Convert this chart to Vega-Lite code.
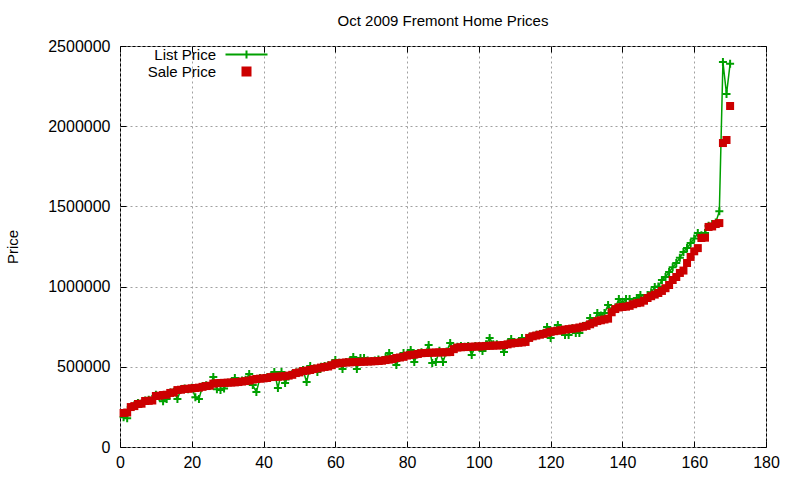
{
"$schema":"https://vega.github.io/schema/vega-lite/v6.json",
"width":646,"height":401,
"autosize":{"type":"none"},
"padding":{"left":120,"top":46,"right":34,"bottom":33},
"background":"white",
"title":{"text":"Oct 2009 Fremont Home Prices","fontSize":15,"fontWeight":"normal","font":"Liberation Sans","color":"black","offset":9,"anchor":"middle"},
"config":{"view":{"stroke":"black","strokeWidth":1},"font":"Liberation Sans","axis":{"labelFont":"Liberation Sans","labelFontSize":16,"labelColor":"black","titleFont":"Liberation Sans","titleColor":"black"}},
"data":{"values":[
{"i":1,"list":185000,"sale":212000},{"i":2,"list":180000,"sale":215000},{"i":3,"list":249000,"sale":249000},{"i":4,"list":260000,"sale":255000},{"i":5,"list":275000,"sale":268000},{"i":6,"list":270000,"sale":270000},{"i":7,"list":290000,"sale":287000},{"i":8,"list":295000,"sale":288000},{"i":9,"list":300000,"sale":290000},{"i":10,"list":325000,"sale":318000},
{"i":11,"list":310000,"sale":320000},{"i":12,"list":285000,"sale":324000},{"i":13,"list":300000,"sale":326000},{"i":14,"list":340000,"sale":337000},{"i":15,"list":345000,"sale":340000},{"i":16,"list":300000,"sale":355000},{"i":17,"list":360000,"sale":357000},{"i":18,"list":365000,"sale":362000},{"i":19,"list":360000,"sale":363000},{"i":20,"list":370000,"sale":366000},
{"i":21,"list":310000,"sale":368000},{"i":22,"list":300000,"sale":370000},{"i":23,"list":380000,"sale":375000},{"i":24,"list":385000,"sale":380000},{"i":25,"list":380000,"sale":382000},{"i":26,"list":436000,"sale":395000},{"i":27,"list":360000,"sale":398000},{"i":28,"list":355000,"sale":399000},{"i":29,"list":365000,"sale":400000},{"i":30,"list":400000,"sale":401000},
{"i":31,"list":405000,"sale":402000},{"i":32,"list":430000,"sale":403000},{"i":33,"list":410000,"sale":405000},{"i":34,"list":415000,"sale":408000},{"i":35,"list":420000,"sale":411000},{"i":36,"list":455000,"sale":414000},{"i":37,"list":386000,"sale":420000},{"i":38,"list":343000,"sale":424000},{"i":39,"list":430000,"sale":426000},{"i":40,"list":430000,"sale":428000},
{"i":41,"list":435000,"sale":430000},{"i":42,"list":440000,"sale":436000},{"i":43,"list":467000,"sale":437000},{"i":44,"list":368000,"sale":438000},{"i":45,"list":467000,"sale":440000},{"i":46,"list":399000,"sale":442000},{"i":47,"list":440000,"sale":445000},{"i":48,"list":455000,"sale":450000},{"i":49,"list":465000,"sale":461000},{"i":50,"list":470000,"sale":465000},
{"i":51,"list":480000,"sale":474000},{"i":52,"list":405000,"sale":476000},{"i":53,"list":505000,"sale":480000},{"i":54,"list":490000,"sale":486000},{"i":55,"list":467000,"sale":490000},{"i":56,"list":500000,"sale":495000},{"i":57,"list":505000,"sale":499000},{"i":58,"list":510000,"sale":502000},{"i":59,"list":515000,"sale":510000},{"i":60,"list":542000,"sale":520000},
{"i":61,"list":525000,"sale":522000},{"i":62,"list":486000,"sale":525000},{"i":63,"list":530000,"sale":527000},{"i":64,"list":535000,"sale":528000},{"i":65,"list":561000,"sale":529000},{"i":66,"list":486000,"sale":530000},{"i":67,"list":555000,"sale":531000},{"i":68,"list":555000,"sale":532000},{"i":69,"list":540000,"sale":533000},{"i":70,"list":535000,"sale":534000},
{"i":71,"list":540000,"sale":535000},{"i":72,"list":545000,"sale":536000},{"i":73,"list":540000,"sale":538000},{"i":74,"list":560000,"sale":542000},{"i":75,"list":586000,"sale":545000},{"i":76,"list":550000,"sale":548000},{"i":77,"list":511000,"sale":555000},{"i":78,"list":560000,"sale":558000},{"i":79,"list":586000,"sale":562000},{"i":80,"list":575000,"sale":570000},
{"i":81,"list":605000,"sale":574000},{"i":82,"list":530000,"sale":576000},{"i":83,"list":585000,"sale":580000},{"i":84,"list":590000,"sale":585000},{"i":85,"list":586000,"sale":586000},{"i":86,"list":636000,"sale":587000},{"i":87,"list":524000,"sale":588000},{"i":88,"list":530000,"sale":589000},{"i":89,"list":600000,"sale":590000},{"i":90,"list":530000,"sale":590000},
{"i":91,"list":595000,"sale":591000},{"i":92,"list":648000,"sale":592000},{"i":93,"list":615000,"sale":610000},{"i":94,"list":625000,"sale":620000},{"i":95,"list":630000,"sale":622000},{"i":96,"list":625000,"sale":623000},{"i":97,"list":630000,"sale":624000},{"i":98,"list":574000,"sale":625000},{"i":99,"list":630000,"sale":626000},{"i":100,"list":628000,"sale":627000},
{"i":101,"list":598000,"sale":628000},{"i":102,"list":640000,"sale":630000},{"i":103,"list":680000,"sale":631000},{"i":104,"list":640000,"sale":632000},{"i":105,"list":640000,"sale":633000},{"i":106,"list":635000,"sale":634000},{"i":107,"list":592000,"sale":636000},{"i":108,"list":645000,"sale":640000},{"i":109,"list":673000,"sale":645000},{"i":110,"list":650000,"sale":648000},
{"i":111,"list":655000,"sale":650000},{"i":112,"list":680000,"sale":652000},{"i":113,"list":660000,"sale":655000},{"i":114,"list":685000,"sale":680000},{"i":115,"list":690000,"sale":690000},{"i":116,"list":700000,"sale":695000},{"i":117,"list":705000,"sale":700000},{"i":118,"list":710000,"sale":705000},{"i":119,"list":748000,"sale":712000},{"i":120,"list":680000,"sale":718000},
{"i":121,"list":725000,"sale":722000},{"i":122,"list":760000,"sale":725000},{"i":123,"list":730000,"sale":728000},{"i":124,"list":698000,"sale":732000},{"i":125,"list":698000,"sale":735000},{"i":126,"list":740000,"sale":738000},{"i":127,"list":710000,"sale":740000},{"i":128,"list":710000,"sale":745000},{"i":129,"list":755000,"sale":750000},{"i":130,"list":760000,"sale":755000},
{"i":131,"list":804000,"sale":765000},{"i":132,"list":780000,"sale":775000},{"i":133,"list":835000,"sale":785000},{"i":134,"list":820000,"sale":790000},{"i":135,"list":835000,"sale":795000},{"i":136,"list":885000,"sale":800000},{"i":137,"list":850000,"sale":840000},{"i":138,"list":870000,"sale":860000},{"i":139,"list":922000,"sale":870000},{"i":140,"list":900000,"sale":873000},
{"i":141,"list":922000,"sale":875000},{"i":142,"list":922000,"sale":880000},{"i":143,"list":895000,"sale":890000},{"i":144,"list":929000,"sale":897000},{"i":145,"list":948000,"sale":900000},{"i":146,"list":920000,"sale":912000},{"i":147,"list":948000,"sale":929000},{"i":148,"list":965000,"sale":940000},{"i":149,"list":997000,"sale":950000},{"i":150,"list":1000000,"sale":960000},
{"i":151,"list":1041000,"sale":973000},{"i":152,"list":1060000,"sale":990000},{"i":153,"list":1091000,"sale":1010000},{"i":154,"list":1120000,"sale":1041000},{"i":155,"list":1147000,"sale":1060000},{"i":156,"list":1180000,"sale":1085000},{"i":157,"list":1215000,"sale":1100000},{"i":158,"list":1240000,"sale":1147000},{"i":159,"list":1272000,"sale":1185000},{"i":160,"list":1300000,"sale":1220000},
{"i":161,"list":1334000,"sale":1240000},{"i":162,"list":1320000,"sale":1303000},{"i":163,"list":1334000,"sale":1305000},{"i":164,"list":1380000,"sale":1372000},{"i":165,"list":1390000,"sale":1375000},{"i":166,"list":1400000,"sale":1390000},{"i":167,"list":1470000,"sale":1396000},{"i":168,"list":2400000,"sale":1895000},{"i":169,"list":2200000,"sale":1914000},{"i":170,"list":2390000,"sale":2126000}
]},
"layer":[
{"mark":{"type":"line","strokeWidth":1.5},
 "encoding":{
  "x":{"field":"i","type":"quantitative","scale":{"domain":[0,180],"nice":false,"zero":false},
   "axis":{"orient":"bottom","values":[0,20,40,60,80,100,120,140,160,180],"grid":true,"gridColor":"#a0a0a0","gridDash":[2,3],"domain":false,"tickSize":-6,"tickColor":"black","labelPadding":13,"labelFlush":false,"title":null}},
  "y":{"field":"list","type":"quantitative","scale":{"domain":[0,2500000],"nice":false},
   "axis":{"orient":"left","values":[0,500000,1000000,1500000,2000000,2500000],"format":"d","grid":true,"gridColor":"#a0a0a0","gridDash":[2,3],"domain":false,"tickSize":-6,"tickColor":"black","labelPadding":16,"title":"Price","titleFontSize":15,"titleFontWeight":"normal","titlePadding":27}},
  "color":{"datum":"List Price","type":"nominal","scale":{"domain":["List Price","Sale Price"],"range":["#00a000","#cc0000"]},
   "legend":{"orient":"none","legendX":119,"legendY":1,"title":null,"labelFontSize":15,"labelFont":"Liberation Sans","labelColor":"black","labelAlign":"right","labelOffset":-38,"symbolSize":64,"padding":0,"rowPadding":0,
    "encode":{"symbols":{"update":{"shape":[{"test":"datum.value === 'List Price'","value":"M-5.25,0L5.25,0M0,-1L0,1"},{"value":"square"}],"fill":[{"test":"datum.value === 'List Price'","value":"transparent"},{"value":"#cc0000"}],"stroke":[{"test":"datum.value === 'List Price'","value":"#00a000"},{"value":"transparent"}],"strokeWidth":{"value":2},"opacity":{"value":1}}}}}}
 }},
{"mark":{"type":"point","shape":"M-1,0L1,0M0,-1L0,1","size":64,"filled":false,"strokeWidth":2,"color":"#00a000","opacity":1},
 "encoding":{
  "x":{"field":"i","type":"quantitative","axis":{"orient":"top","values":[0,20,40,60,80,100,120,140,160,180],"labels":false,"grid":false,"domain":false,"tickSize":-6,"tickColor":"black","title":null}},
  "y":{"field":"list","type":"quantitative","axis":{"orient":"right","values":[0,500000,1000000,1500000,2000000,2500000],"labels":false,"grid":false,"domain":false,"tickSize":-6,"tickColor":"black","title":null}}
 }},
{"mark":{"type":"square","size":64,"opacity":1},
 "encoding":{
  "x":{"field":"i","type":"quantitative","axis":null},
  "y":{"field":"sale","type":"quantitative","axis":null},
  "color":{"datum":"Sale Price","type":"nominal",
   "legend":{"orient":"none","legendX":119,"legendY":1,"title":null,"labelFontSize":15,"labelFont":"Liberation Sans","labelColor":"black","labelAlign":"right","labelOffset":-38,"symbolSize":64,"padding":0,"rowPadding":0,
    "encode":{"symbols":{"update":{"shape":[{"test":"datum.value === 'List Price'","value":"M-5.25,0L5.25,0M0,-1L0,1"},{"value":"square"}],"fill":[{"test":"datum.value === 'List Price'","value":"transparent"},{"value":"#cc0000"}],"stroke":[{"test":"datum.value === 'List Price'","value":"#00a000"},{"value":"transparent"}],"strokeWidth":{"value":2},"opacity":{"value":1}}}}}}
 }}
],
"resolve":{"scale":{"x":"shared","y":"shared","color":"shared"},"axis":{"x":"independent","y":"independent"}}
}
